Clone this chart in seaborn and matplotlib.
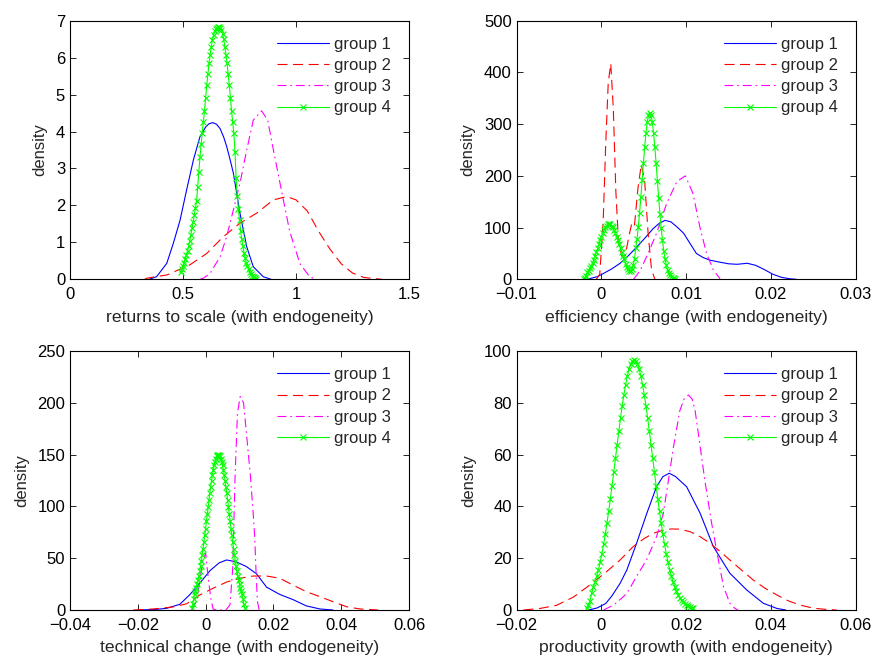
import numpy as np
import matplotlib
matplotlib.use("Agg")
import matplotlib.pyplot as plt
import seaborn as sns

# ---------------- data ----------------
labels = ["group 1", "group 2", "group 3", "group 4"]

# Panel 1: returns to scale
rts_g1_x = [0.35, 0.383, 0.428, 0.457, 0.487, 0.516, 0.546, 0.575, 0.60, 0.615, 0.631, 0.648, 0.664, 0.68, 0.693, 0.708,
            0.723, 0.752, 0.782, 0.811, 0.855, 0.89]
rts_g1_y = [0.0, 0.07, 0.43, 0.97, 1.6, 2.42, 3.23, 3.86, 4.12, 4.21, 4.24, 4.2, 4.08, 3.85, 3.6, 3.25,
            2.87, 1.79, 0.88, 0.34, 0.07, 0.0]
rts_g2_x = [0.33, 0.34, 0.43, 0.53, 0.605, 0.678, 0.752, 0.826, 0.90, 0.959, 1.00, 1.05, 1.10, 1.15, 1.20, 1.25, 1.30, 1.38]
rts_g2_y = [0.0, 0.03, 0.12, 0.39, 0.70, 1.15, 1.52, 1.79, 2.15, 2.24, 2.15, 1.85, 1.30, 0.82, 0.42, 0.17, 0.05, 0.0]
rts_g3_x = [0.575, 0.59, 0.62, 0.664, 0.693, 0.723, 0.752, 0.782, 0.811, 0.848, 0.875, 0.90, 0.944, 0.972, 1.017, 1.06, 1.09]
rts_g3_y = [0.0, 0.03, 0.16, 0.61, 1.15, 1.88, 2.6, 3.5, 4.31, 4.56, 4.3, 3.5, 2.15, 1.3, 0.43, 0.07, 0.0]
rts_g4_range = (0.49, 0.825)
rts_g4_y = [0.20, 0.28, 0.36, 0.45, 0.55, 0.65, 0.77, 0.90, 1.04, 1.20,
            1.38, 1.56, 1.74, 1.93, 2.11, 2.50, 2.90, 3.30, 3.65, 3.95,
            4.25, 4.55, 4.90, 5.25, 5.55, 5.85, 6.08, 6.30, 6.47, 6.62,
            6.71, 6.78, 6.81, 6.82, 6.82, 6.80, 6.76, 6.65, 6.50, 6.30,
            6.08, 5.85, 5.55, 5.25, 4.90, 4.55, 4.25, 3.95, 3.45, 2.75,
            2.25, 1.90, 1.60, 1.32, 1.08, 0.90, 0.72, 0.58, 0.45, 0.35,
            0.27, 0.20, 0.14, 0.10, 0.07, 0.05, 0.03, 0.01]

# Panel 2: efficiency change
eff_g1_x = [-0.0017, -0.0005, 0.0002, 0.0012, 0.0022, 0.0032, 0.0042, 0.0052, 0.0061, 0.0068, 0.0075, 0.0082, 0.0090, 0.0097,
            0.0105, 0.0112, 0.0120, 0.0128, 0.0140, 0.0150, 0.0160, 0.0172, 0.0182, 0.0192, 0.0202, 0.0212, 0.0222, 0.0230]
eff_g1_y = [0, 5, 11, 20, 31, 46, 63, 81, 98, 108, 114, 111, 100, 89, 68, 50, 42, 37, 33, 30, 29, 31, 27, 19, 10, 4, 1, 0]
eff_g2_x = [-0.0006, -0.0002, 0.0002, 0.0005, 0.0008, 0.0011, 0.0014, 0.0017, 0.0020, 0.0024, 0.0028, 0.0032, 0.0036, 0.0039,
            0.0043, 0.0047, 0.0051, 0.0055, 0.0059, 0.0063]
eff_g2_y = [0, 10, 110, 260, 380, 417, 330, 170, 75, 45, 45, 80, 110, 105, 175, 222, 190, 90, 20, 0]
eff_g3_x = [0.0038, 0.0046, 0.0055, 0.0065, 0.0077, 0.0089, 0.0099, 0.0108, 0.0116, 0.0124, 0.0132, 0.0140]
eff_g3_y = [0, 18, 50, 89, 147, 189, 200, 166, 102, 50, 18, 1]
eff_g4_range = (-0.0021, 0.0087)
eff_g4_y = [1, 3, 7, 13.3, 16.9, 21.2, 26.1, 31.7, 38.0, 44.8,
            52.1, 59.7, 67.5, 75.2, 82.6, 89.4, 95.4, 100.3, 104.0, 106.2,
            107.0, 106.2, 104.0, 100.3, 95.4, 89.4, 82.6, 75.2, 67.5, 59.7,
            52.1, 45.3, 39.0, 30, 24, 19, 16, 16, 20, 28,
            40, 60, 78.6, 101.6, 128.8, 159.2, 191.6, 224.4, 255.5, 282.7,
            303.9, 317.4, 322, 317.4, 303.8, 282.5, 255.2, 223.9, 190.8, 158.0,
            127.1, 99.2, 75.3, 55.5, 39.7, 27.6, 18.7, 12.2, 7.8, 4.8,
            2.9, 1.7, 0.8]

# Panel 3: technical change
tc_g1_x = [-0.020, -0.015, -0.0115, -0.0076, -0.0046, -0.0017, 0.0013, 0.0040, 0.0062, 0.0090, 0.0120, 0.0150, 0.0180, 0.0219,
           0.0258, 0.0297, 0.0337, 0.0376]
tc_g1_y = [0, 0.5, 1.6, 5.5, 15, 26, 38, 45.5, 48.3, 46.5, 42, 35, 22, 15, 10, 4, 1, 0]
tc_g2_x = [-0.0213, -0.0154, -0.0095, -0.0056, -0.0017, 0.0022, 0.0062, 0.0101, 0.0140, 0.0180, 0.0219, 0.0258, 0.0297, 0.0337,
           0.0376, 0.0415, 0.0455, 0.0509]
tc_g2_y = [0, 1, 3, 6, 14.5, 21, 27, 30.6, 32.8, 32.8, 30.6, 24, 17.7, 12.9, 8, 3.2, 1, 0]
tc_g3_x = [-0.0040, -0.0025, -0.0010, 0.0000, 0.0008, 0.0015, 0.0022, 0.0030, 0.0060, 0.0072, 0.0080, 0.0087, 0.0094, 0.0102,
           0.0112, 0.0122, 0.0132, 0.0140, 0.0145, 0.0149, 0.0153, 0.0158]
tc_g3_y = [0, 10, 45, 55, 30, 12, 1, 0, 0, 5, 40, 130, 190, 206, 200, 165, 130, 95, 70, 35, 8, 0]
tc_g4_range = (-0.0040, 0.0115)
tc_g4_y = [2, 6, 11, 15.8, 18.5, 21.6, 24.9, 28.7, 32.9, 37.4,
           42.3, 47.6, 53.2, 59.2, 65.4, 72.0, 78.6, 85.5, 92.4, 99.2,
           106.0, 112.6, 118.9, 124.8, 130.3, 135.3, 139.6, 143.3, 146.2, 148.3,
           149.6, 150.0, 149.6, 148.3, 146.2, 143.3, 139.6, 135.3, 130.3, 124.8,
           118.9, 112.6, 106.0, 99.2, 92.4, 85.5, 78.6, 72.0, 65.4, 59.2,
           53.2, 47.6, 42.3, 37.4, 32.9, 28.7, 24.9, 21.6, 18.5, 15.8,
           11, 6, 2]

# Panel 4: productivity growth
pg_g1_x = [-0.003, -0.001, 0.001, 0.0025, 0.0044, 0.006, 0.0083, 0.0107, 0.013, 0.0145, 0.016, 0.0175, 0.0201, 0.0233,
           0.0264, 0.0303, 0.0343, 0.0382, 0.0414, 0.0435]
pg_g1_y = [0, 0.8, 2.5, 5.5, 10.3, 15.5, 25.8, 37.3, 47.6, 51.5, 52.8, 51.5, 47.6, 37.3, 24.5, 14.2, 7.7, 2.6, 0.6, 0]
pg_g2_x = [-0.0184, -0.0145, -0.0106, -0.0066, -0.0027, 0.0012, 0.0044, 0.0075, 0.0100, 0.0122, 0.0145, 0.0165, 0.0185,
           0.0210, 0.0233, 0.0256, 0.0280, 0.0303, 0.0330, 0.0358, 0.0385, 0.0414, 0.0440, 0.0469, 0.0500, 0.0532, 0.0555]
pg_g2_y = [0, 0.6, 1.8, 5, 9.7, 14.8, 19.3, 24.5, 27.5, 29.6, 30.8, 31.3, 31.2, 30.2, 28.3, 25.8, 22.6, 19.3, 15.5, 11.6,
           8.5, 5.8, 3.6, 1.9, 0.7, 0.2, 0]
pg_g3_x = [0.0005, 0.0030, 0.0060, 0.0083, 0.0107, 0.0130, 0.0146, 0.0158, 0.0170, 0.0185, 0.0195, 0.0205, 0.0214, 0.0221,
           0.0233, 0.0244, 0.0260, 0.0276, 0.0288, 0.0303, 0.0315, 0.0322]
pg_g3_y = [0, 2, 6.4, 13, 19.5, 28.3, 37.3, 50, 63, 77, 81.5, 83, 81.5, 77, 63, 50, 33.5, 19.3, 9, 2.6, 0.6, 0]
pg_g4_range = (-0.0035, 0.0217)
pg_g4_y = [0.8, 2.0, 3.5, 6.5, 8.9, 10.8, 13.1, 15.6, 18.5, 21.7,
           25.3, 29.2, 33.5, 38.1, 42.9, 48.0, 53.2, 58.5, 63.8, 69.0,
           74.1, 78.8, 83.2, 87.0, 90.3, 93.0, 94.9, 96.1, 96.5, 96.1,
           94.9, 93.0, 90.3, 87.0, 83.2, 78.8, 74.1, 69.0, 63.8, 58.5,
           53.2, 48.0, 42.9, 38.1, 33.5, 29.2, 25.3, 21.7, 18.5, 15.6,
           13.1, 10.8, 8.9, 7.3, 5.9, 4.7, 3.8, 3.0, 2.3, 1.8,
           1.4, 1.1, 0.8, 0.6]

# axis ticks / labels
x_labels = ["returns to scale (with endogeneity)", "efficiency change (with endogeneity)",
            "technical change (with endogeneity)", "productivity growth (with endogeneity)"]
y_label = "density"
rts_xticks, rts_xticklabels = [0, 0.5, 1, 1.5], ["0", "0.5", "1", "1.5"]
rts_yticks = [0, 1, 2, 3, 4, 5, 6, 7]
eff_xticks, eff_xticklabels = [-0.01, 0, 0.01, 0.02, 0.03], ["\u22120.01", "0", "0.01", "0.02", "0.03"]
eff_yticks = [0, 100, 200, 300, 400, 500]
tc_xticks, tc_xticklabels = [-0.04, -0.02, 0, 0.02, 0.04, 0.06], ["\u22120.04", "\u22120.02", "0", "0.02", "0.04", "0.06"]
tc_yticks = [0, 50, 100, 150, 200, 250]
pg_xticks, pg_xticklabels = [-0.02, 0, 0.02, 0.04, 0.06], ["\u22120.02", "0", "0.02", "0.04", "0.06"]
pg_yticks = [0, 20, 40, 60, 80, 100]

# ---------------- styling ----------------
sns.set_style("ticks", {"xtick.direction": "in", "ytick.direction": "in", "axes.edgecolor": "black"})
plt.rcParams["font.family"] = ["Liberation Sans", "DejaVu Sans"]
FS = 12
FS_LAB = 12.6

colors = [(0, 0, 1), (1, 0, 0), (1, 0, 1), (0, 1, 0)]
styles = ["-", (0, (9, 5)), (0, (8, 3.5, 1.5, 3.5)), "-"]

fig = plt.figure(figsize=(8.74, 6.57), dpi=100)
W, H = 874, 657
def add_axes(l, t, r, b):
    return fig.add_axes([l / W, 1 - b / H, (r - l) / W, (b - t) / H])

ax1 = add_axes(70, 20.7, 409, 279.3)
ax2 = add_axes(516.7, 20.7, 855.7, 279.3)
ax3 = add_axes(70, 351, 409, 610)
ax4 = add_axes(516.7, 351, 855.7, 610)

panels = [
    (ax1, [(rts_g1_x, rts_g1_y), (rts_g2_x, rts_g2_y), (rts_g3_x, rts_g3_y)], rts_g4_range, rts_g4_y,
     (0, 1.5), (0, 7), rts_xticks, rts_xticklabels, rts_yticks, x_labels[0]),
    (ax2, [(eff_g1_x, eff_g1_y), (eff_g2_x, eff_g2_y), (eff_g3_x, eff_g3_y)], eff_g4_range, eff_g4_y,
     (-0.01, 0.03), (0, 500), eff_xticks, eff_xticklabels, eff_yticks, x_labels[1]),
    (ax3, [(tc_g1_x, tc_g1_y), (tc_g2_x, tc_g2_y), (tc_g3_x, tc_g3_y)], tc_g4_range, tc_g4_y,
     (-0.04, 0.06), (0, 250), tc_xticks, tc_xticklabels, tc_yticks, x_labels[2]),
    (ax4, [(pg_g1_x, pg_g1_y), (pg_g2_x, pg_g2_y), (pg_g3_x, pg_g3_y)], pg_g4_range, pg_g4_y,
     (-0.02, 0.06), (0, 100), pg_xticks, pg_xticklabels, pg_yticks, x_labels[3]),
]

for ax, curves, grange, gvals, xlim, ylim, xt, xtl, yt, xlab in panels:
    for i, (cx, cy) in enumerate(curves):
        sns.lineplot(x=cx, y=cy, ax=ax, color=colors[i], linestyle=styles[i], linewidth=0.8,
                     sort=False, label=labels[i])
    gx = np.linspace(grange[0], grange[1], len(gvals))
    sns.lineplot(x=gx, y=gvals, ax=ax, color=colors[3], linestyle="-", linewidth=0.8, sort=False,
                 marker="x", markersize=5, markeredgewidth=0.8, markeredgecolor=colors[3],
                 markerfacecolor=colors[3], label=labels[3])
    ax.set_xlim(*xlim)
    ax.set_ylim(*ylim)
    ax.set_xticks(xt)
    ax.set_xticklabels(xtl)
    ax.set_yticks(yt)
    ax.set_yticklabels([str(v) for v in yt])
    ax.tick_params(direction="in", top=True, right=True, length=4, width=0.6, labelsize=FS,
                   colors="black")
    ax.tick_params(axis="x", pad=5.5)
    ax.tick_params(axis="y", pad=3.5)
    for sp in ax.spines.values():
        sp.set_visible(True)
        sp.set_linewidth(0.8)
        sp.set_color("black")
    ax.set_xlabel(xlab, fontsize=FS_LAB, labelpad=5.5)
    ax.set_ylabel(y_label, fontsize=FS, labelpad=6)
    ax.legend(loc="upper left", bbox_to_anchor=(0.612, 0.937), frameon=False, handlelength=3.1,
              handletextpad=0.3, labelspacing=0.37, borderpad=0, borderaxespad=0, fontsize=FS, numpoints=1)

fig.savefig("out.png", dpi=100)
